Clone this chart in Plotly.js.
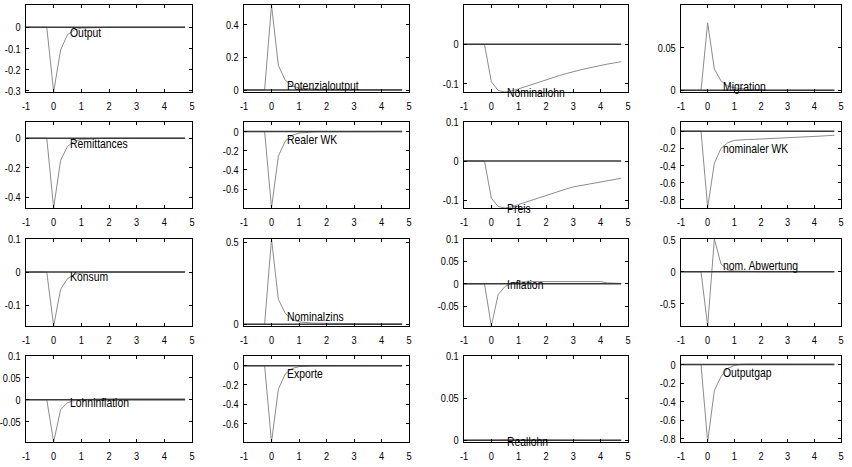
<!DOCTYPE html>
<html><head><meta charset="utf-8">
<script src="https://cdn.plot.ly/plotly-3.0.1.min.js"></script>
<style>html,body{margin:0;padding:0;background:#fff}#chart{width:852px;height:467px}</style>
</head><body><div id="chart"></div>
<script>
// quarters after the shock
const periods = [-1,-0.75,-0.5,-0.25,0,0.25,0.5,0.75,1,1.25,1.5,1.75,2,2.25,2.5,2.75,3,3.25,3.5,3.75,4,4.25,4.5,4.75];
const zeroX = [-1, 4.75];
const zeroY = [0, 0];

const names = ["Output","Potenzialoutput","Nominallohn","Migration",
               "Remittances","Realer WK","Preis","nominaler WK",
               "Konsum","Nominalzins","Inflation","nom. Abwertung",
               "Lohninflation","Exporte","Reallohn","Outputgap"];

const output        = [0,0,0,0,-0.305,-0.107,-0.035,-0.012,-0.004,-0.002,-0.001,-0.001,0,0,0,0,0,0,0,0,0,0,0,0];
const potenzial     = [0,0,0,0,0.52,0.15,0.06,0.025,0.012,0.008,0.006,0.005,0.004,0.004,0.003,0.003,0.003,0.002,0.002,0.002,0.002,0.002,0.002,0.002];
const nominallohn   = [0,0,0,0,-0.095,-0.117,-0.121,-0.118,-0.113,-0.107,-0.101,-0.095,-0.089,-0.084,-0.079,-0.074,-0.069,-0.065,-0.061,-0.057,-0.053,-0.050,-0.047,-0.044];
const migration     = [0,0,0,0,0.079,0.025,0.011,0.005,0.003,0.002,0.001,0.001,0.001,0,0,0,0,0,0,0,0,0,0,0];
const remittances   = [0,0,0,0,-0.473,-0.15,-0.055,-0.02,-0.008,-0.004,-0.002,-0.001,0,0,0,0,0,0,0,0,0,0,0,0];
const realerWK      = [0,0,0,0,-0.795,-0.255,-0.1,-0.04,-0.015,-0.007,-0.004,-0.002,-0.001,0,0,0,0,0,0,0,0,0,0,0];
const preis         = [0,0,0,0,-0.095,-0.116,-0.12,-0.117,-0.111,-0.105,-0.099,-0.093,-0.087,-0.082,-0.077,-0.071,-0.066,-0.063,-0.06,-0.057,-0.054,-0.05,-0.047,-0.044];
const nominalerWK   = [0,0,0,0,-0.89,-0.375,-0.2,-0.135,-0.107,-0.1,-0.097,-0.095,-0.092,-0.088,-0.085,-0.081,-0.077,-0.073,-0.069,-0.065,-0.061,-0.057,-0.052,-0.048];
const konsum        = [0,0,0,0,-0.163,-0.052,-0.02,-0.007,-0.003,-0.001,0,0,0,0,0,0,0,0,0,0,0,0,0,0];
const nominalzins   = [0,0,0,0,0.52,0.152,0.067,0.03,0.015,0.01,0.008,0.007,0.006,0.005,0.005,0.004,0.004,0.004,0.003,0.003,0.003,0.003,0.003,0.003];
const inflation     = [0,0,0,0,-0.094,-0.024,-0.006,0.002,0.004,0.005,0.005,0.005,0.005,0.005,0.005,0.005,0.005,0.005,0.005,0.005,0.005,0.002,0.001,0.001];
const abwertung     = [0,0,0,0,-0.846,0.51,0.12,0.03,0.01,0.005,0.003,0.002,0.001,0,0,0,0,0,0,0,0,0,0,0];
const lohninflation = [0,0,0,0,-0.097,-0.023,-0.007,-0.002,0,0.001,0.002,0.002,0.002,0.002,0.002,0.002,0.002,0.002,0.002,0.002,0.002,0.002,0.002,0.002];
const exporte       = [0,0,0,0,-0.79,-0.243,-0.085,-0.03,-0.01,-0.004,-0.002,-0.001,0,0,0,0,0,0,0,0,0,0,0,0];
const reallohn      = [0,0,0,0,-0.0005,0.0003,0.0005,0.0004,0.0003,0.0002,0.0001,0,0,0,0,0,0,0,0,0,0,0,0,0];
const outputgap     = [0,0,0,0,-0.835,-0.28,-0.13,-0.04,-0.01,0.004,0.006,0.006,0.006,0.006,0.005,0.005,0.005,0.005,0.005,0.005,0.004,0.004,0.004,0.004];

const series = [output,potenzial,nominallohn,migration,remittances,realerWK,preis,nominalerWK,
                konsum,nominalzins,inflation,abwertung,lohninflation,exporte,reallohn,outputgap];

const xTickVals = [-1,0,1,2,3,4,5];
const xTickText = ["-1","0","1","2","3","4","5"];

const yTickVals = [
  [0,-0.1,-0.2,-0.3],[0,0.2,0.4],[-0.1,0,0.1],[0,0.05,0.1],
  [0,-0.2,-0.4],[0,-0.2,-0.4,-0.6],[-0.1,0,0.1],[0,-0.2,-0.4,-0.6,-0.8],
  [-0.1,0,0.1],[0,0.5],[-0.05,0,0.05,0.1],[-0.5,0,0.5],
  [-0.05,0,0.05,0.1],[0,-0.2,-0.4,-0.6],[0,0.05,0.1],[0,-0.2,-0.4,-0.6,-0.8]];
const yTickText = [
  ["0","-0.1","-0.2","-0.3"],["0","0.2","0.4"],["-0.1","0","0.1"],["0","0.05","0.1"],
  ["0","-0.2","-0.4"],["0","-0.2","-0.4","-0.6"],["-0.1","0","0.1"],["0","-0.2","-0.4","-0.6","-0.8"],
  ["-0.1","0","0.1"],["0","0.5"],["-0.05","0","0.05","0.1"],["-0.5","0","0.5"],
  ["-0.05","0","0.05","0.1"],["0","-0.2","-0.4","-0.6"],["0","0.05","0.1"],["0","-0.2","-0.4","-0.6","-0.8"]];

// layout-only settings
const yRanges = [
  [-0.305,0.105],[-0.012,0.52],[-0.121,0.1],[-0.002,0.1],
  [-0.473,0.11],[-0.796,0.1],[-0.12,0.1],[-0.895,0.107],
  [-0.163,0.1],[-0.01,0.52],[-0.094,0.1],[-0.846,0.51],
  [-0.097,0.1],[-0.79,0.1],[-0.002,0.1],[-0.837,0.093]];
const labelY = [-0.025,0.03,-0.12,0.004,-0.034,-0.08,-0.119,-0.205,-0.012,0.046,-0.001,0.096,-0.006,-0.085,0,-0.082];
const labelShift = [0,0,-1,0,0,0,-1,0,0,0,0,0,0,0,-1,0];

const W = 852, H = 467;
const cols = [[26,192],[244,409],[464,628],[681,841]];
const rows = [[5,92],[122,208],[239,326],[356,442]];
const FONT = "'Liberation Sans', Arial, sans-serif";
const SQUEEZE = 0.8;

const traces = [];
const layout = {
  width: W, height: H, margin: {l:0,r:0,t:0,b:0},
  paper_bgcolor: "#fff", plot_bgcolor: "#fff",
  showlegend: false, annotations: [],
  font: {family: FONT, size: 11, color: "#000"}
};

for (let i = 0; i < 16; i++) {
  const r = Math.floor(i/4), c = i % 4;
  const sfx = i === 0 ? "" : String(i+1);
  const xa = "x" + sfx, ya = "y" + sfx;
  traces.push({x: periods, y: series[i], xaxis: xa, yaxis: ya, type: "scatter", mode: "lines",
               line: {color: "#8c8c8c", width: 1}, hoverinfo: "skip"});
  traces.push({x: zeroX, y: zeroY, xaxis: xa, yaxis: ya, type: "scatter", mode: "lines",
               line: {color: "#3a3a3a", width: 1.5}, hoverinfo: "skip"});
  const common = {showgrid: false, zeroline: false, showline: true, linecolor: "#000", linewidth: 1,
                  mirror: "ticks", ticks: "inside", ticklen: 3, tickwidth: 1, tickcolor: "#000",
                  tickfont: {family: FONT, size: 11.5, color: "#000"}, fixedrange: true};
  layout["xaxis" + sfx] = Object.assign({}, common, {
    domain: [cols[c][0]/W, cols[c][1]/W], range: [-1, 5], anchor: ya, ticklabelstandoff: 3,
    tickmode: "array", tickvals: xTickVals, ticktext: xTickText});
  layout["yaxis" + sfx] = Object.assign({}, common, {
    domain: [1 - rows[r][1]/H, 1 - rows[r][0]/H], range: yRanges[i], anchor: xa, ticklabelstandoff: 2,
    tickmode: "array", tickvals: yTickVals[i], ticktext: yTickText[i]});
  layout.annotations.push({x: 0.5, y: labelY[i], xref: xa, yref: ya, text: names[i],
    showarrow: false, xanchor: "left", yanchor: "middle", yshift: labelShift[i],
    font: {family: FONT, size: 13, color: "#000"}});
}

Plotly.newPlot("chart", traces, layout, {staticPlot: true}).then(function (gd) {
  // condense glyphs horizontally (reference uses a narrow typeface)
  gd.querySelectorAll(".main-svg text").forEach(function (t) {
    const len = t.getComputedTextLength();
    if (!len) return;
    const isAnn = t.classList.contains("annotation-text");
    const bb = t.getBBox();
    t.setAttribute("lengthAdjust", "spacingAndGlyphs");
    t.setAttribute("textLength", (len * SQUEEZE).toFixed(2));
    if (isAnn) {
      t.setAttribute("text-anchor", "start");
      t.style.textAnchor = "start";
      t.setAttribute("x", bb.x.toFixed(2));
    }
  });
});
</script></body></html>
